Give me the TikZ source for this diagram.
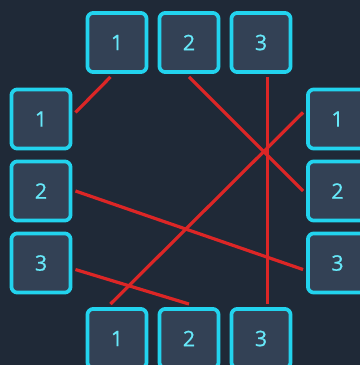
\documentclass[tikz,border=0pt]{standalone}
\usepackage{fontspec}
\setsansfont{Open Sans}[FakeBold=0.7]
\usetikzlibrary{arrows.meta,positioning}
\definecolor{wireBg}{HTML}{1F2937}
\definecolor{wireFill}{HTML}{334155}
\definecolor{wireCyan}{HTML}{22D3EE}
\definecolor{wireText}{HTML}{67E8F9}
\definecolor{wireRed}{HTML}{DC2626}
\tikzset{
  every picture/.style={font=\sffamily\fontsize{16}{16}\selectfont, text=wireText},
  wire box/.style={draw=wireCyan, fill=wireFill, line width=2.8pt,
    rounded corners=4.5pt, minimum size=44.4pt, inner sep=0pt},
  wire link/.style={draw=wireRed, line width=2.4pt, line cap=butt}
}

\begin{document}
\begin{tikzpicture}[x=0.75pt,y=0.75pt]
  \fill[wireBg] (0,0) rectangle (360,365);
  \useasboundingbox (0,0) rectangle (360,365);
  % top row
  \node[wire box] (t1) at (117,322.5) {1};
  \node[wire box] (t2) at (189,322.5) {2};
  \node[wire box] (t3) at (261,322.5) {3};
  % left column
  \node[wire box] (l1) at (41,246) {1};
  \node[wire box] (l2) at (41,174) {2};
  \node[wire box] (l3) at (41,102) {3};
  % right column
  \node[wire box] (r1) at (337.5,246) {1};
  \node[wire box] (r2) at (337.5,174) {2};
  \node[wire box] (r3) at (337.5,102) {3};
  % bottom row
  \node[wire box] (b1) at (117,26.5) {1};
  \node[wire box] (b2) at (189,26.5) {2};
  \node[wire box] (b3) at (261,26.5) {3};
  % wires
  \draw[wire link] ([xshift=-4.9pt,yshift=-2.25pt]t1.south) -- ([xshift=2.25pt,yshift=4.9pt]l1.east);
  \draw[wire link] ([yshift=-2.25pt]t2.south) -- ([xshift=-2.25pt]r2.west);
  \draw[wire link] ([xshift=4.9pt,yshift=-2.25pt]t3.south) -- ([xshift=4.9pt,yshift=2.25pt]b3.north);
  \draw[wire link] ([xshift=2.25pt]l2.east) -- ([xshift=-2.25pt,yshift=-4.9pt]r3.west);
  \draw[wire link] ([xshift=2.25pt,yshift=-4.9pt]l3.east) -- ([yshift=2.25pt]b2.north);
  \draw[wire link] ([xshift=-2.25pt,yshift=4.9pt]r1.west) -- ([xshift=-4.9pt,yshift=2.25pt]b1.north);
\end{tikzpicture}
\end{document}
